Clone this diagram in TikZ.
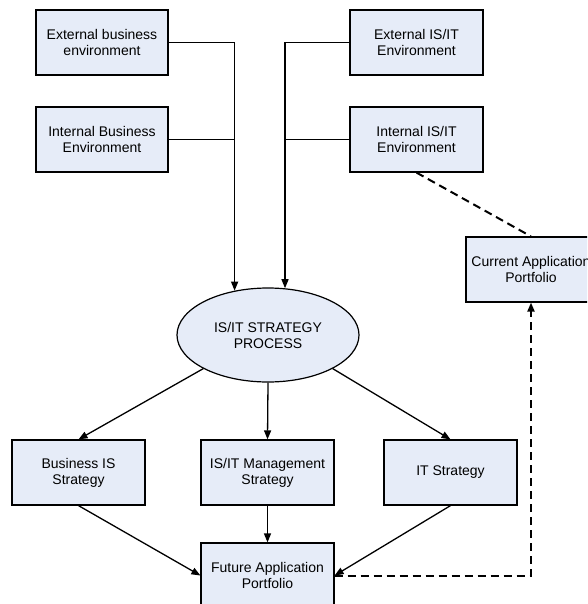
\documentclass[tikz,border=0pt]{standalone}
\usepackage{fontspec}
\setmainfont{Liberation Sans}
\usetikzlibrary{arrows.meta,shapes.geometric,calc}
\definecolor{boxfill}{RGB}{230,236,248}
\begin{document}
\begin{tikzpicture}[x=1pt,y=-1pt,
  box/.style={draw=black,line width=1.2pt,fill=boxfill,rectangle,minimum width=132pt,minimum height=65pt,inner sep=0pt,align=center,font=\fontsize{14}{16}\selectfont},
  ell/.style={draw=black,line width=1.2pt,fill=boxfill,ellipse,minimum width=182pt,minimum height=94pt,inner sep=0pt,align=center,font=\fontsize{14}{16}\selectfont},
  conn/.style={line width=1.3pt,draw=black},
  arr/.style={conn,-{Triangle[length=9pt,width=7pt]}},
  dasharr/.style={line width=2pt,dash pattern=on 8pt off 5pt,-{Triangle[length=9pt,width=7pt]}},
  dashline/.style={line width=2pt,dash pattern=on 8pt off 5pt}]
\clip (0,0) rectangle (587,604);
\fill[white] (0,0) rectangle (587,604);
\node[box] (extb) at (102,42.5) {External business\\environment};
\node[box] (intb) at (102,139.5) {Internal Business\\Environment};
\node[box,minimum width=133pt] (exti) at (416.5,42.5) {External IS/IT\\Environment};
\node[box,minimum width=133pt] (inti) at (416.5,139.5) {Internal IS/IT\\Environment};
\node[box,minimum width=130pt] (curr) at (531,269.5) {Current Application\\Portfolio};
\node[ell] (proc) at (268,335) {IS/IT STRATEGY\\PROCESS};
\node[box,minimum width=133pt] (biz) at (78.5,472.5) {Business IS\\Strategy};
\node[box,minimum width=133pt] (mgmt) at (267.5,472.5) {IS/IT Management\\Strategy};
\node[box,minimum width=133pt] (its) at (450.5,472.5) {IT Strategy};
\node[box,minimum width=133pt] (fut) at (267.5,575.5) {Future Application\\Portfolio};
% inputs
\draw[arr] (extb.east) -| (proc.127);
\draw[conn] (intb.east) -- (intb.east -| proc.127);
\draw[arr] (exti.west) -| (proc.70);
\draw[conn] (inti.west) -- (inti.west -| proc.70);
\draw[dashline] (inti.south) -- (curr.north);
% outputs
\draw[arr] (proc.south west) -- (biz.north);
\draw[arr] (proc.south) -- (mgmt.north);
\draw[arr] (proc.south east) -- (its.north);
\draw[arr] (biz.south) -- (fut.west);
\draw[arr] (mgmt.south) -- (fut.north);
\draw[arr] (its.south) -- (fut.east);
\draw[dasharr] (fut.east) -| (curr.south);
\end{tikzpicture}
\end{document}
